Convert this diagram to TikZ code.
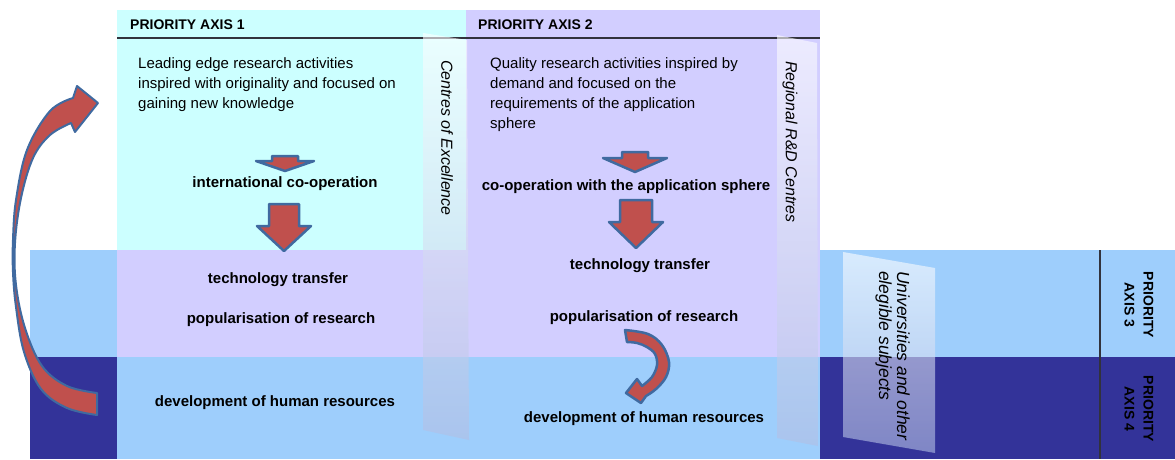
\documentclass[tikz,border=0pt]{standalone}
\usepackage{fontspec}
\setmainfont{Liberation Sans}
\usepackage{tikz}
\usetikzlibrary{positioning}

\definecolor{axcyan}{RGB}{204,255,255}
\definecolor{axlav}{RGB}{210,206,255}
\definecolor{axlight}{RGB}{158,206,252}
\definecolor{axdark}{RGB}{51,51,153}
\definecolor{arrred}{RGB}{192,80,77}
\definecolor{arrblue}{RGB}{64,106,160}
\definecolor{sheetlow}{RGB}{178,190,228}
\definecolor{rulegray}{RGB}{50,50,60}

\begin{document}
\begin{tikzpicture}[x=1pt,y=-1pt]
  \tikzset{
    desc/.style={anchor=north west, inner sep=0pt, align=left, font=\fontsize{15}{20}\selectfont},
    lbl/.style={anchor=base, inner sep=0pt, font=\fontsize{15}{18}\selectfont\bfseries},
    axhead/.style={anchor=west, inner sep=0pt, font=\fontsize{14}{17}\selectfont\bfseries},
    sidehead/.style={inner sep=0pt, rotate=-90, align=center, font=\fontsize{14}{19}\selectfont\bfseries},
    sheet/.style={top color=white, bottom color=sheetlow, opacity=0.6},
    sheettext/.style={inner sep=0pt, rotate=-90, align=left, font=\fontsize{16}{18}\selectfont\itshape},
    blockarr/.style={fill=arrred, draw=arrblue, line width=2.5pt, line join=round}
  }
  \useasboundingbox (0,0) rectangle (1175,459);
  % bands of axis 3 and 4
  \fill[axlight] (30,250) rectangle (1175,357);
  \fill[axdark] (30,357) rectangle (1175,459);
  % columns of axis 1 and 2
  \fill[axcyan] (117,10) rectangle (466,250);
  \fill[axlav] (466,10) rectangle (820,250);
  \fill[axlav] (117,250) rectangle (820,357);
  \fill[axlight] (117,357) rectangle (820,459);
  \draw[rulegray, line width=1.2pt] (117,38) -- (820,38);
  \draw[rulegray, line width=1.2pt] (1100,250) -- (1100,459);

  % sheets
  \shade[sheet] (423,33) -- (467,40) -- (469,440) -- (423,430) -- cycle;
  \shade[sheet] (777,35) -- (817,43) -- (818,446) -- (777,438) -- cycle;
  \shade[sheet] (843,252) -- (935,268) -- (935,453) -- (843,437) -- cycle;
  \node[sheettext] (coe) at (447,138) {Centres of Excellence};
  \node[sheettext] (rdc) at (790,142) {Regional R\&D Centres};
  \node[sheettext, anchor=north west, font=\fontsize{17.5}{18}\selectfont\itshape] (univ) at (910,271) {Universities and other\\elegible subjects};

  % axis 1
  \node[axhead] (ax1head) at (130,25) {PRIORITY AXIS 1};
  \node[desc] (ax1desc) at (138,57) {Leading edge research activities\\inspired with originality and focused on\\gaining new knowledge};
  \node[lbl] (ax1coop) at (285,187) {international co-operation};
  \node[lbl] (ax1tt) at (278,283) {technology transfer};
  \node[lbl] (ax1pop) at (281,323) {popularisation of research};
  \node[lbl] (ax1hr) at (275,406) {development of human resources};

  % axis 2
  \node[axhead] (ax2head) at (478,25) {PRIORITY AXIS 2};
  \node[desc] (ax2desc) at (490,57) {Quality research activities inspired by\\demand and focused on the\\requirements of the application\\sphere};
  \node[lbl] (ax2coop) at (626,190) {co-operation with the application sphere};
  \node[lbl] (ax2tt) at (640,269) {technology transfer};
  \node[lbl] (ax2pop) at (644,321) {popularisation of research};
  \node[lbl] (ax2hr) at (644,422) {development of human resources};

  % axis 3 and 4
  \node[sidehead] (ax3head) at (1139,305) {PRIORITY\\AXIS 3};
  \node[sidehead] (ax4head) at (1139,409) {PRIORITY\\AXIS 4};

  % arrows
  \draw[blockarr] (272,156) -- (298,156) -- (298,161) -- (314,161) -- (285,171) -- (256,161) -- (272,161) -- cycle;
  \draw[blockarr] (269,204) -- (299,204) -- (299,226) -- (311,226) -- (284,251) -- (257,226) -- (269,226) -- cycle;
  \draw[blockarr] (622,152) -- (648,152) -- (648,158) -- (667,158) -- (635,172) -- (603,158) -- (622,158) -- cycle;
  \draw[blockarr] (620,200) -- (652,200) -- (652,222) -- (663,222) -- (636,248) -- (609,222) -- (620,222) -- cycle;
  \draw[blockarr, line width=2pt] plot[smooth, tension=0.6] coordinates {(97,415) (67,408) (41,389) (24,352) (16,307) (13,272) (13,240) (16,200) (27,150) (50,111) (73,98)}
    -- (77,86) -- (98,103) -- (75,132) -- (71,123)
    -- plot[smooth, tension=0.6] coordinates {(71,123) (50,135) (33,158) (21,198) (15,243) (16,285) (25,328) (42,366) (67,386) (97,393)} -- cycle;
  \draw[blockarr] plot[smooth, tension=0.6] coordinates {(625,330) (648,334) (662,345) (669,362) (666,377) (656,389) (646,396)}
    -- (641,403) -- (626,393) -- (637,379) -- (642,386)
    -- plot[smooth, tension=0.6] coordinates {(642,386) (652,377) (657,365) (655,354) (647,347) (637,343) (627,342)} -- cycle;
\end{tikzpicture}
\end{document}
